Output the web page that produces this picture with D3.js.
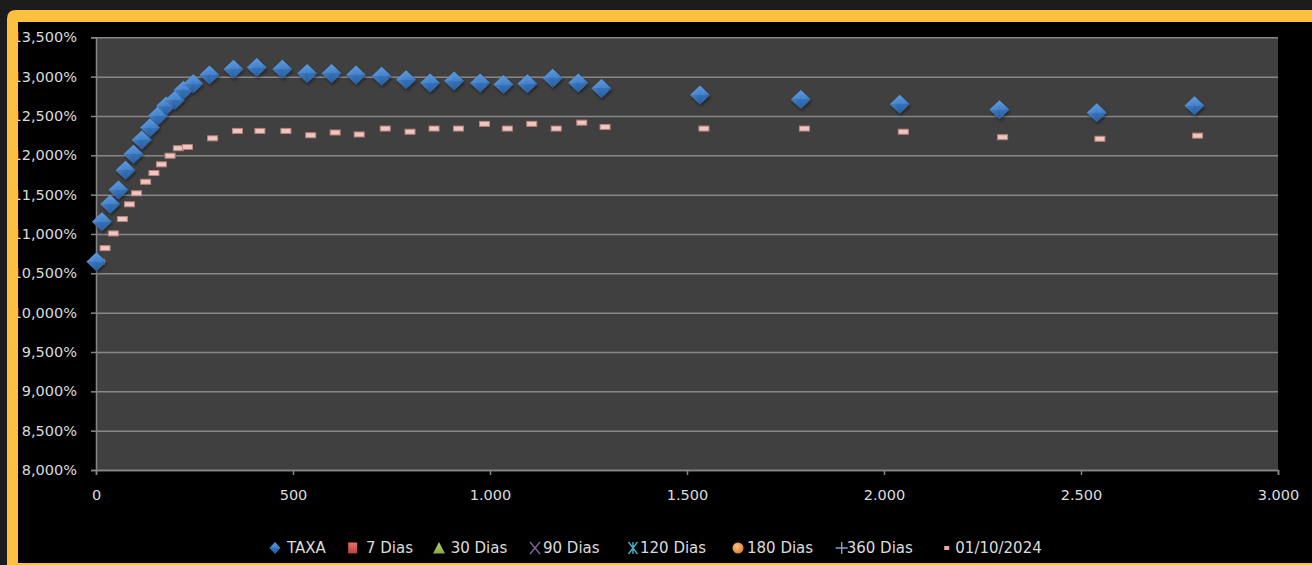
<!DOCTYPE html>
<html>
<head>
<meta charset="utf-8">
<script src="https://cdn.jsdelivr.net/npm/d3@7"></script>
<style>
  html, body { margin: 0; padding: 0; background: #1c1c1c; }
  svg { display: block; }
  text { font-family: "DejaVu Sans", sans-serif; }
</style>
</head>
<body>
<svg id="chart" width="1312" height="565"></svg>
<script>
// ---------- DATA ----------
const taxaDays  = [1, 15, 36, 57, 75, 95, 116, 137, 157, 178, 200, 222, 247, 288, 349, 408, 473, 536,
                   598, 660, 725, 787, 848, 909, 975, 1034, 1095, 1159, 1224, 1283,
                   1533, 1789, 2040, 2293, 2540, 2788];
const taxaRates = [10.646, 11.155, 11.377, 11.56, 11.81, 12.013, 12.195, 12.35, 12.50, 12.627, 12.70, 12.827, 12.91, 13.02, 13.094, 13.115, 13.094, 13.04,
                   13.04, 13.02, 13.005, 12.96, 12.92, 12.945, 12.92, 12.90, 12.91, 12.98, 12.92, 12.85,
                   12.765, 12.71, 12.65, 12.58, 12.54, 12.63];

const curveDays  = [9, 23, 44, 67, 85, 103, 126, 147, 166, 188, 209, 232, 296, 359, 416, 482, 545,
                    607, 668, 734, 797, 858, 920, 986, 1044, 1106, 1168, 1233, 1292,
                    1543, 1798, 2049, 2301, 2548, 2796];
const curveRates = [10.646, 10.82, 11.007, 11.19, 11.377, 11.517, 11.664, 11.775, 11.885, 11.995, 12.09, 12.106, 12.216, 12.31, 12.31, 12.31, 12.255,
                    12.29, 12.265, 12.34, 12.30, 12.34, 12.34, 12.40, 12.34, 12.40, 12.34, 12.415, 12.36,
                    12.34, 12.34, 12.30, 12.23, 12.21, 12.25];

const dias7 = [], dias30 = [], dias90 = [], dias120 = [], dias180 = [], dias360 = [];

const legendLabels = ["TAXA", "7 Dias", "30 Dias", "90 Dias", "120 Dias", "180 Dias", "360 Dias", "01/10/2024"];
const xTicks = [0, 500, 1000, 1500, 2000, 2500, 3000];
const yTicks = [8, 8.5, 9, 9.5, 10, 10.5, 11, 11.5, 12, 12.5, 13, 13.5];

// ---------- LAYOUT ----------
const svg = d3.select("#chart");
const W = 1312, H = 565;
const plot = { left: 96, right: 1278, top: 37.3, bottom: 470 };

const ptBR = d3.formatLocale({ decimal: ",", thousands: ".", grouping: [3], currency: ["R$", ""] });
const fmtY = v => ptBR.format(",.3f")(v) + "%";
const fmtX = ptBR.format(",.0f");

const x = d3.scaleLinear().domain([0, 3000]).range([plot.left, plot.right]);
const y = d3.scaleLinear().domain([8, 13.5]).range([plot.bottom, plot.top]);

const defs = svg.append("defs");
const gBlue = defs.append("linearGradient").attr("id", "gBlue").attr("x1", 0).attr("y1", 0).attr("x2", 0).attr("y2", 1);
gBlue.append("stop").attr("offset", "0%").attr("stop-color", "#5d9be0");
gBlue.append("stop").attr("offset", "50%").attr("stop-color", "#3f7fcb");
gBlue.append("stop").attr("offset", "50%").attr("stop-color", "#316fb8");
gBlue.append("stop").attr("offset", "100%").attr("stop-color", "#2a5e9e");
const gBlueH = defs.append("linearGradient").attr("id", "gBlueH").attr("x1", 0).attr("y1", 0).attr("x2", 1).attr("y2", 0);
gBlueH.append("stop").attr("offset", "0%").attr("stop-color", "#ffffff").attr("stop-opacity", 0.12);
gBlueH.append("stop").attr("offset", "50%").attr("stop-color", "#ffffff").attr("stop-opacity", 0.0);
gBlueH.append("stop").attr("offset", "100%").attr("stop-color", "#000000").attr("stop-opacity", 0.12);
const gRed = defs.append("linearGradient").attr("id", "gRed").attr("x1", 0).attr("y1", 0).attr("x2", 0).attr("y2", 1);
gRed.append("stop").attr("offset", "0%").attr("stop-color", "#e5716d");
gRed.append("stop").attr("offset", "100%").attr("stop-color", "#b8403c");
const gGreen = defs.append("linearGradient").attr("id", "gGreen").attr("x1", 0).attr("y1", 0).attr("x2", 0).attr("y2", 1);
gGreen.append("stop").attr("offset", "0%").attr("stop-color", "#b6d57a");
gGreen.append("stop").attr("offset", "100%").attr("stop-color", "#86a844");
const gOrange = defs.append("radialGradient").attr("id", "gOrange").attr("cx", 0.4).attr("cy", 0.35).attr("r", 0.7);
gOrange.append("stop").attr("offset", "0%").attr("stop-color", "#fbc08a");
gOrange.append("stop").attr("offset", "100%").attr("stop-color", "#e07b26");
const shadow = defs.append("filter").attr("id", "shadow").attr("x", "-50%").attr("y", "-50%").attr("width", "200%").attr("height", "200%");
shadow.append("feDropShadow").attr("dx", 1).attr("dy", 2).attr("stdDeviation", 1.4).attr("flood-color", "#000").attr("flood-opacity", 0.45);

// ---------- FRAME ----------
svg.append("rect").attr("x", 0).attr("y", 0).attr("width", W).attr("height", H).attr("fill", "#1c1c1c");
svg.append("rect").attr("x", 18).attr("y", 22).attr("width", W).attr("height", 541).attr("fill", "#000000");

// plot area
svg.append("rect").attr("x", plot.left).attr("y", plot.top)
   .attr("width", plot.right - plot.left).attr("height", plot.bottom - plot.top)
   .attr("fill", "#404040");

// gridlines
svg.append("g").attr("transform", `translate(${plot.left},0)`)
   .call(d3.axisLeft(y).tickValues(yTicks).tickSize(-(plot.right - plot.left)).tickFormat(""))
   .call(g => g.select(".domain").remove())
   .call(g => g.selectAll("line").attr("stroke", "#878787").attr("stroke-width", 1.5));

// y axis
svg.append("g").attr("transform", `translate(${plot.left},0)`)
   .call(d3.axisLeft(y).tickValues(yTicks).tickSize(5).tickPadding(14).tickFormat(fmtY))
   .call(g => g.select(".domain").attr("stroke", "#878787").attr("stroke-width", 1.5))
   .call(g => g.selectAll("line").attr("stroke", "#878787").attr("stroke-width", 1.5))
   .call(g => g.selectAll("text").attr("fill", "#dcdcdc").style("font-size", "14.5px").style("font-family", "DejaVu Sans"));

// x axis
svg.append("g").attr("transform", `translate(0,${plot.bottom})`)
   .call(d3.axisBottom(x).tickValues(xTicks).tickSize(5).tickPadding(14.5).tickFormat(fmtX))
   .call(g => g.select(".domain").attr("stroke", "#878787").attr("stroke-width", 1.5))
   .call(g => g.selectAll("line").attr("stroke", "#878787").attr("stroke-width", 1.5))
   .call(g => g.selectAll("text").attr("fill", "#dcdcdc").style("font-size", "14.5px").style("font-family", "DejaVu Sans"));

// ---------- MARKERS ----------
function diamondPath(cx, cy, hw, hh) {
  return `M${cx},${cy - hh}L${cx + hw},${cy}L${cx},${cy + hh}L${cx - hw},${cy}Z`;
}

const curveData = curveDays.map((d, i) => ({ d, v: curveRates[i] }));
svg.append("g").selectAll("rect").data(curveData).join("rect")
   .attr("x", p => x(p.d) - 5).attr("y", p => y(p.v) - 2.5)
   .attr("width", 10).attr("height", 5)
   .attr("fill", "#f2c6c0").attr("stroke", "#b9827c").attr("stroke-width", 1);

const taxaData = taxaDays.map((d, i) => ({ d, v: taxaRates[i] }));
const tg = svg.append("g").attr("filter", "url(#shadow)");
tg.selectAll("path.dm").data(taxaData).join("path").attr("class", "dm")
   .attr("d", p => diamondPath(x(p.d), y(p.v), 10, 9.5))
   .attr("fill", "url(#gBlue)");
svg.append("g").selectAll("path").data(taxaData).join("path")
   .attr("d", p => diamondPath(x(p.d), y(p.v), 10, 9.5))
   .attr("fill", "url(#gBlueH)");

// ---------- LEGEND ----------
const legendMarkX = [275, 352.7, 439, 535, 633, 738, 841.7, 946.7];
const legendTextX = [287, 366, 450.7, 543, 640, 747, 846.7, 955.3];
const ly = 548;
const lg = svg.append("g");
legendLabels.forEach((lab, i) => {
  const cx = legendMarkX[i];
  const m = lg.append("g");
  switch (i) {
    case 0: m.append("path").attr("d", diamondPath(cx, ly, 5.5, 6)).attr("fill", "url(#gBlue)"); break;
    case 1: m.append("rect").attr("x", cx - 4.5).attr("y", ly - 5.5).attr("width", 9).attr("height", 11).attr("fill", "url(#gRed)"); break;
    case 2: m.append("path").attr("d", `M${cx},${ly - 6}L${cx + 6},${ly + 5.5}L${cx - 6},${ly + 5.5}Z`).attr("fill", "url(#gGreen)"); break;
    case 3: m.append("path").attr("d", `M${cx - 5},${ly - 6}L${cx + 5},${ly + 6}M${cx + 5},${ly - 6}L${cx - 5},${ly + 6}`).attr("stroke", "#8064a2").attr("stroke-width", 1.4); break;
    case 4: m.append("path").attr("d", `M${cx - 4.5},${ly - 6}L${cx + 4.5},${ly + 6}M${cx + 4.5},${ly - 6}L${cx - 4.5},${ly + 6}M${cx},${ly - 6}L${cx},${ly + 6}`).attr("stroke", "#4bacc6").attr("stroke-width", 1.4); break;
    case 5: m.append("circle").attr("cx", cx).attr("cy", ly).attr("r", 5.5).attr("fill", "url(#gOrange)"); break;
    case 6: m.append("path").attr("d", `M${cx - 6},${ly}L${cx + 6},${ly}M${cx},${ly - 6}L${cx},${ly + 6}`).attr("stroke", "#7fa0cf").attr("stroke-width", 1.4); break;
    case 7: m.append("rect").attr("x", cx - 2.5).attr("y", ly - 2).attr("width", 5).attr("height", 4).attr("fill", "#e8aaa4"); break;
  }
  lg.append("text").attr("x", legendTextX[i]).attr("y", ly).attr("dy", "0.36em")
    .attr("fill", "#dcdcdc").style("font-size", "15px").text(lab);
});

// ---------- YELLOW BORDER (drawn on top, clipping left labels) ----------
const borderPath = `M7,${H} L7,19 Q7,10 16,10 L${W},10 L${W},22 L18,22 L18,563 L${W},563 L${W},${H} Z`;
svg.append("path").attr("d", borderPath).attr("fill", "#fec03e");
</script>
</body>
</html>
